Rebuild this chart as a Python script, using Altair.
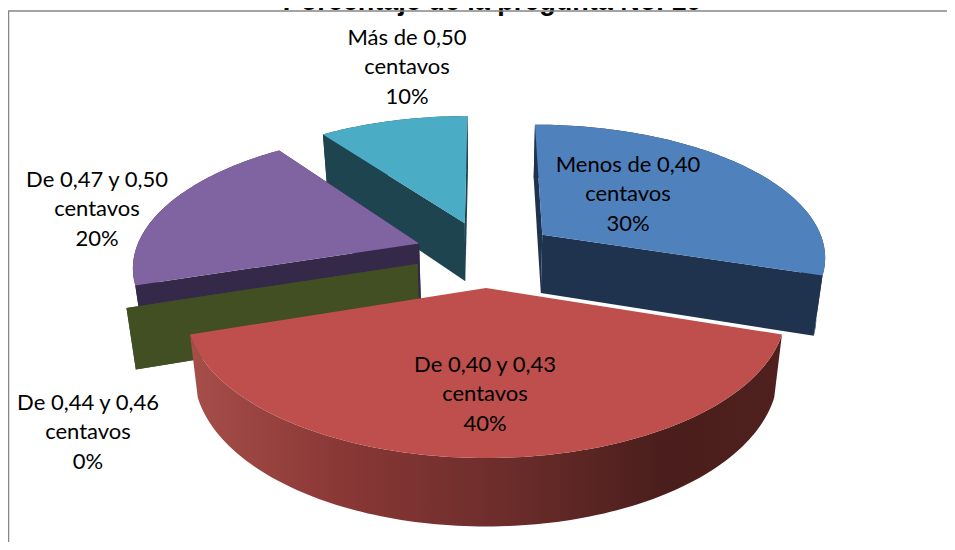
import math
import altair as alt

TITLE = "Porcentaje de la pregunta No. 10"
categories = ["Menos de 0,40 centavos", "De 0,40 y 0,43 centavos", "De 0,44 y 0,46 centavos",
              "De 0,47 y 0,50 centavos", "Más de 0,50 centavos"]
shares = [30, 40, 0, 20, 10]
top_colors = ["#4F81BD", "#BE4F4C", "#9BBB59", "#8064A2", "#4BACC6"]
side_colors = ["#1F334F", "#7A3230", "#424F22", "#35294A", "#1E444F"]
label_lines = [["Menos de 0,40", "centavos", "30%"],
               ["De 0,40 y 0,43", "centavos", "40%"],
               ["De 0,44 y 0,46", "centavos", "0%"],
               ["De 0,47 y 0,50", "centavos", "20%"],
               ["Más de 0,50", "centavos", "10%"]]

# --- layout: a perspective view of a pie of radius 1 ---
W, H = 939, 534
OX, OY = 8, 8                 # page margin
X0, HORIZON = 486, -609.6
FX, FY, DEPTH = 1858, 5637, 6.53
THICK, THICK_BASE, CONVERGE = 256, 20, 0.026
EXPLODE = 0.25
LABEL_POS = [(628, 165), (485, 365), (88, 403), (97, 180), (407, 38)]
DRAW_ORDER = [4, 3, 2, 0]     # back to front; the big near slice is last


def project(px, py, low=False):
    w = DEPTH + py
    sx = FX * px / w
    sy = HORIZON + FY / w
    if low:
        sx *= 1 - CONVERGE
        sy += THICK / w + THICK_BASE
    return [X0 + sx - OX, sy - OY]


def polygon(points, fill):
    ring = points + [points[0]]
    return {"type": "Feature", "geometry": {"type": "Polygon", "coordinates": [ring]},
            "properties": {"fill": fill}}


def slice_parts(i):
    total = sum(shares)
    start = sum(shares[:i]) / total * 2 * math.pi
    sweep = shares[i] / total * 2 * math.pi
    mid = start + sweep / 2
    ax, ay = EXPLODE * math.sin(mid), EXPLODE * math.cos(mid)
    n = max(2, int(shares[i] * 3))
    rim = []
    for k in range(n + 1):
        a = start + sweep * k / n
        rim.append((ax + math.sin(a), ay + math.cos(a)))
    wall = [project(*p) for p in rim] + [project(*p, low=True) for p in reversed(rim)]
    face_a = [project(ax, ay), project(*rim[0]), project(*rim[0], low=True), project(ax, ay, low=True)]
    face_b = [project(ax, ay), project(*rim[-1]), project(*rim[-1], low=True), project(ax, ay, low=True)]
    top = [project(ax, ay)] + [project(*p) for p in rim]
    return wall, face_a, face_b, top


PROJ = dict(type="identity", scale=1, translate=[0, 0])


def shapes(features):
    return alt.Chart(alt.Data(values=features)).mark_geoshape(strokeWidth=0).encode(
        fill=alt.Fill("properties.fill:N", scale=None, legend=None)
    ).project(**PROJ)


back = []
for i in DRAW_ORDER:
    wall, fa, fb, top = slice_parts(i)
    back += [polygon(wall, side_colors[i]), polygon(fa, side_colors[i]), polygon(fb, side_colors[i])]
    if shares[i] > 0:
        back.append(polygon(top, top_colors[i]))

wall, fa, fb, top = slice_parts(1)
red_wall = alt.Chart(alt.Data(values=[polygon(wall, "x")])).mark_geoshape(
    strokeWidth=0,
    fill=alt.LinearGradient(
        gradient="linear", x1=0, x2=1, y1=0, y2=0,
        stops=[alt.GradientStop(color="#A64E4A", offset=0),
               alt.GradientStop(color="#8A3836", offset=0.25),
               alt.GradientStop(color="#6A2C2A", offset=0.55),
               alt.GradientStop(color="#4A1E1C", offset=0.8),
               alt.GradientStop(color="#4F201E", offset=1)]),
).project(**PROJ)

layers = [
    shapes(back), red_wall, shapes([polygon(top, top_colors[1])]),
    alt.Chart().mark_text(font="Liberation Sans", fontWeight="bold", fontSize=27, align="center",
                          baseline="alphabetic", color="#000000").encode(
        x=alt.value(484), y=alt.value(2), text=alt.datum(TITLE)),
    alt.Chart().mark_rule(color="#868686", strokeWidth=1.5).encode(
        x=alt.value(0.5), y=alt.value(3), y2=alt.value(H)),
    alt.Chart().mark_rule(color="#868686", strokeWidth=1.5).encode(
        x=alt.value(0), x2=alt.value(W), y=alt.value(3)),
]

for lines, (lx, ly) in zip(label_lines, LABEL_POS):
    layers.append(
        alt.Chart().mark_text(font="Lato", fontSize=22, align="center", baseline="middle",
                              lineBreak="\n", lineHeight=29.3, color="#000000").encode(
            x=alt.value(lx - OX), y=alt.value(ly - OY), text=alt.datum("\n".join(lines)))
    )

chart = alt.layer(*layers).properties(
    width=W, height=H, padding=0, autosize=alt.AutoSizeParams(type="none")
).configure_view(stroke=None)

chart.save("out.html", embed_options={"renderer": "svg", "actions": False})
